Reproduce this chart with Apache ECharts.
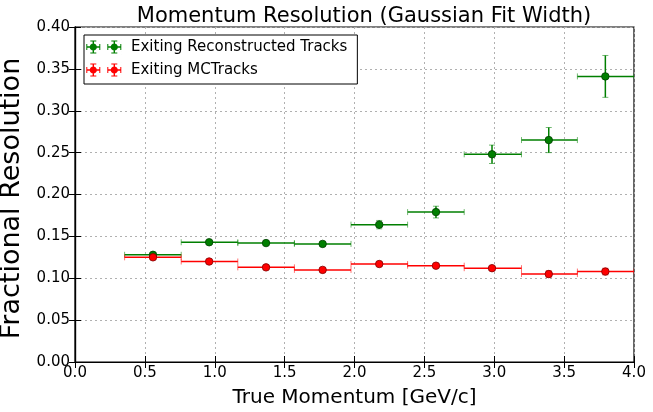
<!DOCTYPE html>
<html>
<head>
<meta charset="utf-8">
<script src="https://cdn.jsdelivr.net/npm/echarts@6/dist/echarts.min.js"></script>
<style>
html,body{margin:0;padding:0;background:#fff;}
#chart{width:653px;height:412px;}
</style>
</head>
<body>
<div id="chart"></div>
<script>
// ---- data ----
var binCenters = [0.558, 0.960, 1.367, 1.772, 2.177, 2.583, 2.984, 3.390, 3.795];
var binLow     = [0.355, 0.760, 1.165, 1.570, 1.975, 2.380, 2.785, 3.195, 3.595];
var binHigh    = [0.760, 1.165, 1.570, 1.975, 2.380, 2.785, 3.195, 3.595, 4.000];
var recoY      = [0.128, 0.143, 0.142, 0.141, 0.164, 0.179, 0.248, 0.265, 0.341];
var recoYErr   = [0.002, 0.002, 0.002, 0.002, 0.005, 0.007, 0.011, 0.015, 0.025];
var mcY        = [0.125, 0.120, 0.113, 0.110, 0.117, 0.115, 0.112, 0.105, 0.108];
var mcYErr     = [0.002, 0.002, 0.002, 0.002, 0.002, 0.002, 0.002, 0.004, 0.004];
var xTicks = [0.0, 0.5, 1.0, 1.5, 2.0, 2.5, 3.0, 3.5, 4.0];
var yTicks = [0.00, 0.05, 0.10, 0.15, 0.20, 0.25, 0.30, 0.35, 0.40];
var recoName = 'Exiting Reconstructed Tracks';
var mcName = 'Exiting MCTracks';
var recoColor = '#007f00';
var mcColor = '#ff0000';

function errData(ys, errs) {
  return binCenters.map(function (x, i) {
    return [x, ys[i], binLow[i], binHigh[i], ys[i] - errs[i], ys[i] + errs[i]];
  });
}
function pointData(ys) {
  return binCenters.map(function (x, i) { return [x, ys[i]]; });
}

function makeErrRender(color) {
  return function (params, api) {
    var x = api.value(0), y = api.value(1);
    var l = api.coord([api.value(2), y]);
    var r = api.coord([api.value(3), y]);
    var lo = api.coord([x, api.value(4)]);
    var hi = api.coord([x, api.value(5)]);
    var cap = 3;
    var main = {stroke: color, lineWidth: 1.5};
    var capS = {stroke: color, lineWidth: 1, opacity: 0.55};
    return {
      type: 'group',
      children: [
        {type: 'line', shape: {x1: l[0], y1: l[1], x2: r[0], y2: r[1]}, style: main},
        {type: 'line', shape: {x1: lo[0], y1: lo[1], x2: hi[0], y2: hi[1]}, style: main},
        {type: 'line', shape: {x1: l[0], y1: l[1] - cap, x2: l[0], y2: l[1] + cap}, style: capS},
        {type: 'line', shape: {x1: r[0], y1: r[1] - cap, x2: r[0], y2: r[1] + cap}, style: capS},
        {type: 'line', shape: {x1: lo[0] - cap, y1: lo[1], x2: lo[0] + cap, y2: lo[1]}, style: capS},
        {type: 'line', shape: {x1: hi[0] - cap, y1: hi[1], x2: hi[0] + cap, y2: hi[1]}, style: capS}
      ]
    };
  };
}

// legend icon: two markers, each with its own error bars (filled shapes, all clockwise)
function circ(cx, cy, r) {
  var k = 0.5523 * r;
  return 'M' + cx + ' ' + (cy - r) +
    ' C' + (cx + k) + ' ' + (cy - r) + ' ' + (cx + r) + ' ' + (cy - k) + ' ' + (cx + r) + ' ' + cy +
    ' C' + (cx + r) + ' ' + (cy + k) + ' ' + (cx + k) + ' ' + (cy + r) + ' ' + cx + ' ' + (cy + r) +
    ' C' + (cx - k) + ' ' + (cy + r) + ' ' + (cx - r) + ' ' + (cy + k) + ' ' + (cx - r) + ' ' + cy +
    ' C' + (cx - r) + ' ' + (cy - k) + ' ' + (cx - k) + ' ' + (cy - r) + ' ' + cx + ' ' + (cy - r) + ' Z ';
}
function rect(x, y, w, h) {
  return 'M' + x + ' ' + y + ' L' + (x + w) + ' ' + y + ' L' + (x + w) + ' ' + (y + h) + ' L' + x + ' ' + (y + h) + ' Z ';
}
function errGlyph(cx) {
  return rect(cx - 7, 7.3, 14, 1.4) +
    rect(cx - 0.7, 2, 1.4, 12) +
    rect(cx - 7, 5, 1, 6) + rect(cx + 6, 5, 1, 6) +
    rect(cx - 3, 1.5, 6, 1) + rect(cx - 3, 13.5, 6, 1) +
    circ(cx, 8, 3.6);
}
var iconPath = 'path://' + rect(0, 0, 0.01, 16) + errGlyph(7.3) + errGlyph(28.3) + rect(35.99, 0, 0.01, 16);

var chart = echarts.init(document.getElementById('chart'), null, {renderer: 'canvas'});
var font = 'DejaVu Sans';

var option = {
  backgroundColor: '#ffffff',
  animation: false,
  textStyle: {fontFamily: font},
  title: {
    text: 'Momentum Resolution (Gaussian Fit Width)',
    left: 359, top: 1, textAlign: 'center',
    textStyle: {fontFamily: font, fontSize: 21, fontWeight: 'normal', color: '#000'}
  },
  legend: {
    orient: 'vertical',
    left: 84, top: 35,
    padding: [4, 10, 6, 2],
    itemGap: 7,
    itemWidth: 36, itemHeight: 16,
    borderColor: '#000', borderWidth: 1, backgroundColor: '#fff',
    borderRadius: 0,
    textStyle: {fontFamily: font, fontSize: 15, color: '#000', padding: [0, 0, 0, 4]},
    data: [
      {name: recoName, icon: iconPath, itemStyle: {color: recoColor}},
      {name: mcName, icon: iconPath, itemStyle: {color: mcColor}}
    ]
  },
  grid: {
    left: 75, right: 19, top: 27, bottom: 50,
    containLabel: false, outerBoundsMode: 'none',
    show: true, borderColor: '#000', borderWidth: 1.2, backgroundColor: 'transparent'
  },
  xAxis: [{
    type: 'value', min: 0, max: 4, interval: 0.5, position: 'bottom',
    name: 'True Momentum [GeV/c]', nameLocation: 'middle', nameGap: 26,
    nameTextStyle: {fontFamily: font, fontSize: 20, color: '#000'},
    axisLine: {show: true, lineStyle: {color: '#000', width: 1.2}},
    axisTick: {show: true, inside: true, length: 6, lineStyle: {color: '#000'}},
    axisLabel: {fontFamily: font, fontSize: 15, color: '#000', margin: 4,
      formatter: function (v) { return v.toFixed(1); }},
    splitLine: {show: true, lineStyle: {color: '#b0b0b0', type: [2, 3], width: 1}}
  }, {
    type: 'value', min: 0, max: 4, interval: 0.5, position: 'top',
    axisLine: {show: true, lineStyle: {color: '#000', width: 1.2}},
    axisTick: {show: true, inside: true, length: 6, lineStyle: {color: '#000'}},
    axisLabel: {show: false}, splitLine: {show: false}
  }],
  yAxis: [{
    type: 'value', min: 0, max: 0.4, interval: 0.05, position: 'left',
    name: 'Fractional Resolution', nameLocation: 'middle', nameGap: 45,
    nameTextStyle: {fontFamily: font, fontSize: 27, color: '#000', padding: [0, 8, 0, 0]},
    axisLine: {show: true, lineStyle: {color: '#000', width: 1.2}},
    axisTick: {show: true, inside: true, length: 6, lineStyle: {color: '#000'}},
    axisLabel: {fontFamily: font, fontSize: 15, color: '#000', margin: 5,
      formatter: function (v) { return v.toFixed(2); }},
    splitLine: {show: true, lineStyle: {color: '#b0b0b0', type: [2, 3], width: 1}}
  }, {
    type: 'value', min: 0, max: 0.4, interval: 0.05, position: 'right',
    axisLine: {show: true, lineStyle: {color: '#000', width: 1.2}},
    axisTick: {show: true, inside: true, length: 6, lineStyle: {color: '#000'}},
    axisLabel: {show: false}, splitLine: {show: false}
  }],
  series: [
    {
      name: recoName, type: 'custom', renderItem: makeErrRender(recoColor),
      data: errData(recoY, recoYErr), clip: true, z: 2, silent: true,
      itemStyle: {color: recoColor}
    },
    {
      name: recoName, type: 'scatter', data: pointData(recoY), symbol: 'circle', symbolSize: 7.5,
      itemStyle: {color: recoColor, borderColor: '#003f00', borderWidth: 0.8, opacity: 1}, z: 3
    },
    {
      name: mcName, type: 'custom', renderItem: makeErrRender(mcColor),
      data: errData(mcY, mcYErr), clip: true, z: 2, silent: true,
      itemStyle: {color: mcColor}
    },
    {
      name: mcName, type: 'scatter', data: pointData(mcY), symbol: 'circle', symbolSize: 7.5,
      itemStyle: {color: mcColor, borderColor: '#7f0000', borderWidth: 0.8, opacity: 1}, z: 3
    }
  ]
};
chart.setOption(option);
</script>
</body>
</html>
